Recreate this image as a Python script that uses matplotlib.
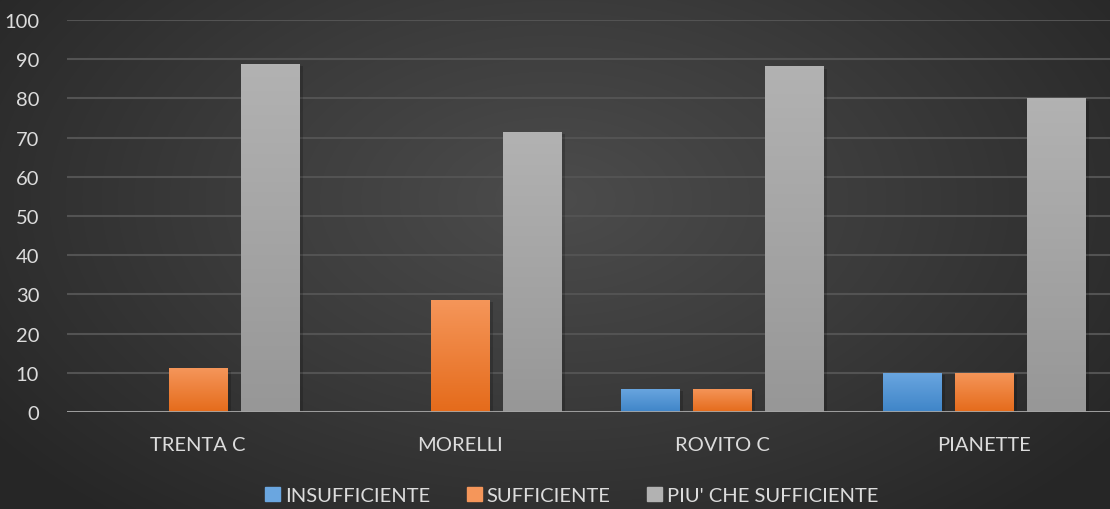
import numpy as np
import matplotlib.pyplot as plt
from matplotlib.colors import LinearSegmentedColormap
from matplotlib.patches import Rectangle

categories = ['TRENTA C', 'MORELLI', 'ROVITO C', 'PIANETTE']
series_names = ['INSUFFICIENTE', 'SUFFICIENTE', "PIU' CHE SUFFICIENTE"]
insufficiente = [0, 0, 5.9, 10]
sufficiente = [11.1, 28.6, 5.9, 10]
piu_che_suff = [88.9, 71.4, 88.2, 80]
yticks = list(range(0, 101, 10))

# top colour, bottom colour of each series gradient
grads = [('#6aa6e0', '#3f85c8'), ('#f5965a', '#e56b1b'), ('#b2b2b2', '#979797')]

plt.rcParams['font.family'] = ['Lato', 'DejaVu Sans']
txt = '#dcdcdc'

fig = plt.figure(figsize=(11.1, 5.1), dpi=100)

# radial background
bg = fig.add_axes([0, 0, 1, 1], zorder=-10)
yy, xx = np.mgrid[0:510, 0:1110]
r = np.sqrt(((xx - 555) / 700.0) ** 2 + ((yy - 200) / 420.0) ** 2)
bgcmap = LinearSegmentedColormap.from_list('bg', ['#4c4c4c', '#3a3a3a', '#262626'])
bg.imshow(r, cmap=bgcmap, vmin=0, vmax=1.0, aspect='auto', extent=[0, 1, 0, 1])
bg.axis('off')

ax = fig.add_axes([67 / 1110, 1 - 413 / 510, 1 - 67 / 1110, 392 / 510])
ax.patch.set_alpha(0)

x = np.arange(len(categories))
w = 0.225
off = 0.275
for i, vals in enumerate([insufficiente, sufficiente, piu_che_suff]):
    bars = ax.bar(x + (i - 1) * off, vals, w, color=grads[i][0], zorder=3, label=series_names[i])
    cmap = LinearSegmentedColormap.from_list('g%d' % i, [grads[i][1], grads[i][0]])
    for b in bars:
        h = b.get_height()
        if h <= 0:
            continue
        bx = b.get_x()
        # soft shadow
        ax.add_patch(Rectangle((bx + 0.012, -0.6), w, h, color='black', alpha=0.18, zorder=2, lw=0))
        im = ax.imshow(np.linspace(0, 1, 100).reshape(-1, 1), cmap=cmap, origin='lower',
                       extent=[bx, bx + w, 0, h], aspect='auto', zorder=4)
        im.set_clip_path(b)

ax.set_xlim(-0.5, 3.48)
ax.set_ylim(0, 100)
ax.set_yticks(yticks)
ax.set_xticks(x)
ax.set_xticklabels(categories)
ax.grid(axis='y', color='#535353', lw=1.5, zorder=0)
ax.axhline(0, color='#a6a6a6', lw=2, zorder=5)
for s in ax.spines.values():
    s.set_visible(False)
ax.tick_params(length=0, colors=txt, labelsize=14.5)
ax.tick_params(axis='y', pad=20)
ax.tick_params(axis='x', pad=17)

handles = [Rectangle((0, 0), 1, 1, color=grads[i][0]) for i in range(3)]
fig.legend(handles, series_names, loc='center', bbox_to_anchor=(0.515, 0.027), ncol=3, frameon=False,
           fontsize=14.5, labelcolor=txt, handlelength=0.75, handleheight=0.75, handletextpad=0.25,
           columnspacing=1.8)

fig.savefig('out.png', dpi=100)
